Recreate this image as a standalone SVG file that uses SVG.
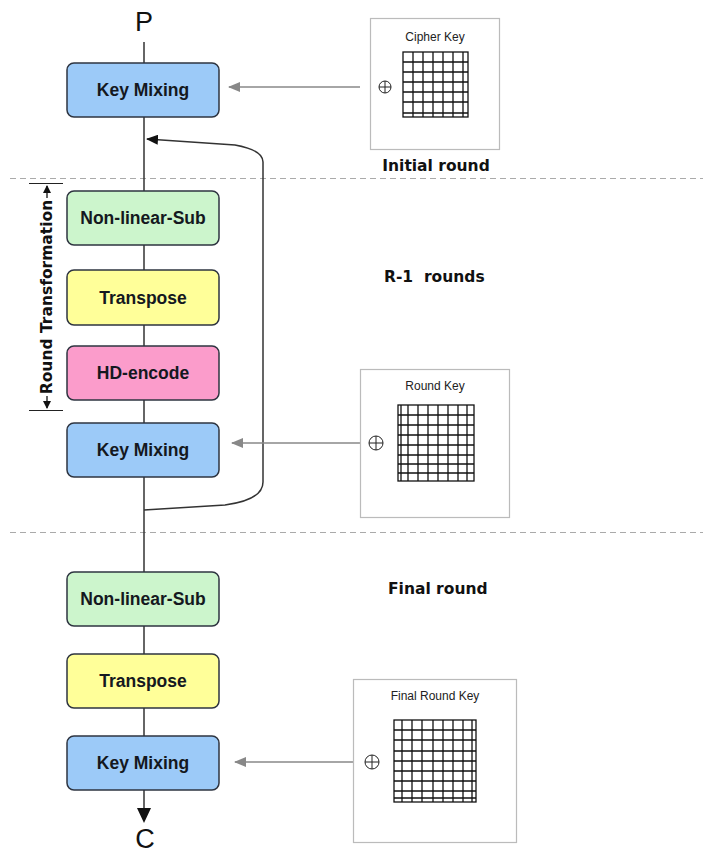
<svg xmlns="http://www.w3.org/2000/svg" width="703" height="854" viewBox="0 0 703 854">
  <style>
    .box { stroke: #2e3440; stroke-width: 1.5; }
    .km { fill: #9ccaf8; }
    .nls { fill: #ccf5cc; }
    .tr { fill: #ffff99; }
    .hd { fill: #fb9ccb; }
    .lbl { font-family: "Liberation Sans", Arial, sans-serif; font-weight: bold; font-size: 17.5px; fill: #141820; text-anchor: middle; }
    .flow { stroke: #333; stroke-width: 1.5; fill: none; }
    .keyline { stroke: #888; stroke-width: 1.5; fill: none; }
    .sep { stroke: #aaa; stroke-width: 1; stroke-dasharray: 6 4; }
    .kbox { fill: #fff; stroke: #bbb; stroke-width: 1.2; }
    .ktitle { font-family: "Liberation Sans", Arial, sans-serif; font-size: 12px; fill: #222; text-anchor: middle; }
    .grid { stroke: #111; stroke-width: 1.3; fill: none; }
    .xor { stroke: #222; stroke-width: 1; fill: none; }
    .round { font-family: "DejaVu Sans", sans-serif; font-weight: bold; font-size: 15.5px; fill: #111; }
    .io { font-family: "Liberation Sans", Arial, sans-serif; font-size: 27px; fill: #111; text-anchor: middle; }
  </style>
  <defs>
    <marker id="grayArrow" markerWidth="12" markerHeight="10" refX="11" refY="5" orient="auto" markerUnits="userSpaceOnUse">
      <path d="M0,0 L12,5 L0,10 Z" fill="#888"/>
    </marker>
    <marker id="blackArrow" markerWidth="12" markerHeight="10" refX="11" refY="5" orient="auto" markerUnits="userSpaceOnUse">
      <path d="M0,0 L12,5 L0,10 Z" fill="#111"/>
    </marker>
    <marker id="tickArrow" markerWidth="8" markerHeight="8" refX="7" refY="4" orient="auto" markerUnits="userSpaceOnUse">
      <path d="M0,0 L8,4 L0,8 Z" fill="#111"/>
    </marker>
  </defs>

  <!-- round separators -->
  <line class="sep" x1="10" y1="178.5" x2="703" y2="178.5"/>
  <line class="sep" x1="10" y1="532.5" x2="703" y2="532.5"/>

  <!-- input / output -->
  <text class="io" x="144" y="31">P</text>
  <text class="io" x="145" y="848">C</text>

  <!-- connectors -->
  <g id="connectors">
    <line class="flow" x1="144" y1="42" x2="144" y2="63"/>
    <line class="flow" x1="144" y1="117" x2="144" y2="191"/>
    <line class="flow" x1="144" y1="245" x2="144" y2="270"/>
    <line class="flow" x1="144" y1="325" x2="144" y2="346"/>
    <line class="flow" x1="144" y1="400" x2="144" y2="423"/>
    <line class="flow" x1="144" y1="477" x2="144" y2="572"/>
    <line class="flow" x1="144" y1="626" x2="144" y2="654"/>
    <line class="flow" x1="144" y1="708" x2="144" y2="736"/>
    <line class="flow" x1="144" y1="790" x2="144" y2="808"/>
    <path d="M137,808 L151,808 L144,823 Z" fill="#111"/>
    <!-- feedback loop for R-1 rounds -->
    <path class="flow" d="M144,510 L225,505 Q263,500 263,482 L263,162 Q263,150 235,145 L147,139" marker-end="url(#blackArrow)"/>
    <!-- key inputs -->
    <line class="keyline" x1="360" y1="87" x2="229" y2="87" marker-end="url(#grayArrow)"/>
    <line class="keyline" x1="368" y1="443" x2="232" y2="443" marker-end="url(#grayArrow)"/>
    <line class="keyline" x1="364" y1="762" x2="235" y2="762" marker-end="url(#grayArrow)"/>
  </g>

  <!-- initial round -->
  <g id="keymix0">
    <rect class="box km" x="67" y="63" width="152" height="54" rx="7"/>
    <text class="lbl" x="143" y="96">Key Mixing</text>
  </g>

  <!-- round transformation span -->
  <g id="round-span">
    <line stroke="#222" stroke-width="1" x1="29" y1="183.5" x2="63" y2="183.5"/>
    <line stroke="#222" stroke-width="1" x1="29" y1="410.5" x2="63" y2="410.5"/>
    <line stroke="#111" stroke-width="1.3" x1="47" y1="198" x2="47" y2="186" marker-end="url(#tickArrow)"/>
    <line stroke="#111" stroke-width="1.3" x1="47" y1="396" x2="47" y2="408" marker-end="url(#tickArrow)"/>
    <text class="round" transform="translate(52,297) rotate(-90)" text-anchor="middle" font-size="14.2">Round Transformation</text>
  </g>

  <g id="nls1">
    <rect class="box nls" x="67" y="191" width="152" height="54" rx="7"/>
    <text class="lbl" x="143" y="224">Non-linear-Sub</text>
  </g>
  <g id="transpose1">
    <rect class="box tr" x="67" y="270" width="152" height="55" rx="7"/>
    <text class="lbl" x="143" y="304">Transpose</text>
  </g>
  <g id="hdencode">
    <rect class="box hd" x="67" y="346" width="152" height="54" rx="7"/>
    <text class="lbl" x="143" y="379">HD-encode</text>
  </g>
  <g id="keymix1">
    <rect class="box km" x="67" y="423" width="152" height="54" rx="7"/>
    <text class="lbl" x="143" y="456">Key Mixing</text>
  </g>

  <!-- final round -->
  <g id="nls2">
    <rect class="box nls" x="67" y="572" width="152" height="54" rx="7"/>
    <text class="lbl" x="143" y="605">Non-linear-Sub</text>
  </g>
  <g id="transpose2">
    <rect class="box tr" x="67" y="654" width="152" height="54" rx="7"/>
    <text class="lbl" x="143" y="687">Transpose</text>
  </g>
  <g id="keymix2">
    <rect class="box km" x="67" y="736" width="152" height="54" rx="7"/>
    <text class="lbl" x="143" y="769">Key Mixing</text>
  </g>

  <!-- round captions -->
  <text class="round" x="436" y="171" text-anchor="middle">Initial round</text>
  <text class="round" x="384" y="282" xml:space="preserve">R-1  rounds</text>
  <text class="round" x="388" y="594">Final round</text>

  <!-- cipher key -->
  <g id="cipherkey">
    <rect class="kbox" x="370.5" y="18.5" width="129" height="131"/>
    <text class="ktitle" x="435" y="41">Cipher Key</text>
    <rect class="grid" x="403" y="52" width="65" height="65"/>
    <path class="grid" d="M413,52V117M423,52V117M433,52V117M443,52V117M453,52V117M463,52V117M403,62H468M403,72H468M403,82H468M403,92H468M403,102H468M403,113H468"/>
    <circle class="xor" cx="385" cy="87" r="6"/>
    <path class="xor" d="M379,87H391M385,81V93"/>
  </g>

  <!-- round key -->
  <g id="roundkey">
    <rect class="kbox" x="360.5" y="369.5" width="149" height="148"/>
    <text class="ktitle" x="435" y="390">Round Key</text>
    <rect class="grid" x="398" y="405" width="76" height="76"/>
    <path class="grid" d="M401,405V481M408,405V481M418,405V481M428,405V481M438,405V481M448,405V481M458,405V481M467,405V481M398,415H474M398,425H474M398,435H474M398,445H474M398,455H474M398,464H474M398,473H474"/>
    <circle class="xor" cx="376" cy="443" r="7"/>
    <path class="xor" d="M369,443H383M376,436V450"/>
  </g>

  <!-- final round key -->
  <g id="finalkey">
    <rect class="kbox" x="353.5" y="679.5" width="163" height="163"/>
    <text class="ktitle" x="435" y="700">Final Round Key</text>
    <rect class="grid" x="394" y="720" width="82" height="82"/>
    <path class="grid" d="M402,720V802M412,720V802M422,720V802M433,720V802M443,720V802M453,720V802M463,720V802M472,720V802M394,730H476M394,740H476M394,751H476M394,761H476M394,771H476M394,781H476M394,791H476M394,798H476"/>
    <circle class="xor" cx="372" cy="762" r="7"/>
    <path class="xor" d="M365,762H379M372,755V769"/>
  </g>
</svg>
